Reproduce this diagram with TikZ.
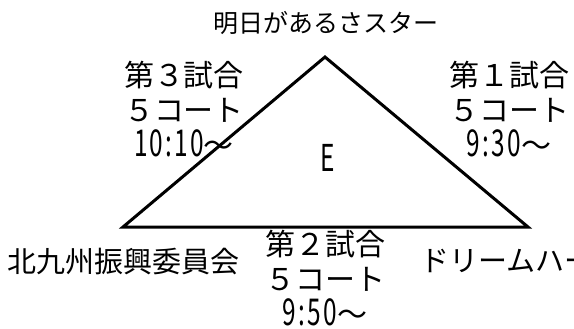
\documentclass[tikz,border=0pt]{standalone}
\usepackage{fontspec}
\setmainfont{Noto Sans CJK JP}
\newfontfamily\narrowfont[FakeStretch=0.66, LetterSpace=6]{Noto Sans CJK JP}
\tikzstyle{team} = [inner sep=0pt, font=\fontsize{29}{35}\selectfont]
\tikzstyle{match} = [inner sep=0pt, align=center, font=\fontsize{30}{35}\selectfont]
\tikzstyle{edge} = [line width=3pt]
\newcommand{\clock}[1]{{\narrowfont\fontsize{37}{35}\selectfont #1}}

\begin{document}
\begin{tikzpicture}[x=1pt, y=-1pt]
  \useasboundingbox (0,0) rectangle (574,329);
  \coordinate (apex) at (325,57);
  \coordinate (bl) at (123,227);
  \coordinate (br) at (528,227);
  \draw[edge] (apex) -- (br) -- (bl) -- cycle;
  \node[inner sep=0pt, font=\fontsize{25}{30}\selectfont] (star) at (326,23) {明日があるさスター};
  \node[team] (kita) at (124,262) {北九州振興委員会};
  \node[team, anchor=west] (dream) at (420,261) {ドリームハー};
  \node[match] (g3) at (184,109) {第３試合\\５コート\\\clock{10:10}～};
  \node[match] (g1) at (509,109) {第１試合\\５コート\\\clock{9:30}～};
  \node[match] (g2) at (325,278) {第２試合\\５コート\\\clock{9:50}～};
  \node[inner sep=0pt] (court) at (328,158) {\clock{E}};
\end{tikzpicture}
\end{document}
